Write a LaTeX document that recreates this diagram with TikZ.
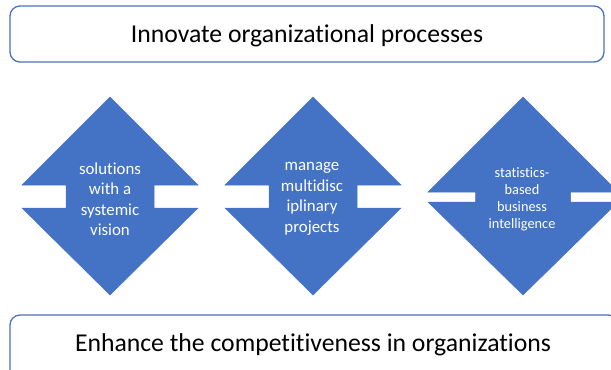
\documentclass[tikz,border=0pt]{standalone}
\usepackage{fontspec}
\setmainfont{Carlito}[RawFeature={-liga;-clig;-calt}]
\definecolor{accblue}{HTML}{4472C4}
\definecolor{edgeblue}{HTML}{4A72BE}
\tikzset{
  titlebox/.style={draw=edgeblue, line width=1.3bp, rounded corners=10bp, fill=white},
  titletext/.style={text=black, font=\fontsize{25.8}{30}\selectfont, inner sep=0pt},
  arrowshape/.style={fill=accblue, draw=accblue, line width=0.5bp},
  diatext/.style={text=white, align=center, inner sep=0pt, font=\fontsize{16.9}{20.6}\selectfont},
  diatextsmall/.style={text=white, align=center, inner sep=0pt, font=\fontsize{14.4}{17.2}\selectfont}
}
\begin{document}
\begin{tikzpicture}[x=1bp,y=-1bp]
\useasboundingbox (0,0) rectangle (611,369);
% top box
\draw[titlebox] (10,6) rectangle (604,62);
\node[titletext] (top) at (307,36) {Innovate organizational processes};
% bottom box
\draw[titlebox] (10,315) rectangle (618,385);
\node[titletext] (bottom) at (313,344.5) {Enhance the competitiveness in organizations};
% up-down arrows
\path[arrowshape] (110,97) -- (198,185) -- (154,185) -- (154,208) -- (198,208) -- (110,295)
  -- (22,208) -- (66,208) -- (66,185) -- (22,185) -- cycle;
\path[arrowshape] (313,97) -- (401,185) -- (357,185) -- (357,208) -- (401,208) -- (313,295)
  -- (225,208) -- (269,208) -- (269,185) -- (225,185) -- cycle;
\path[arrowshape] (523,97) -- (618,192) -- (570.5,192) -- (570.5,202) -- (618,202) -- (523,295)
  -- (428,202) -- (475.5,202) -- (475.5,192) -- (428,192) -- cycle;
\node[diatext] (d1) at (110,199) {solutions\\with a\\systemic\\vision};
\node[diatext] (d2) at (312,199) {manage\\multidisc\\iplinary\\projects};
\node[diatextsmall] (d3) at (522,199) {statistics-\\based\\business\\intelligence};
\end{tikzpicture}
\end{document}
